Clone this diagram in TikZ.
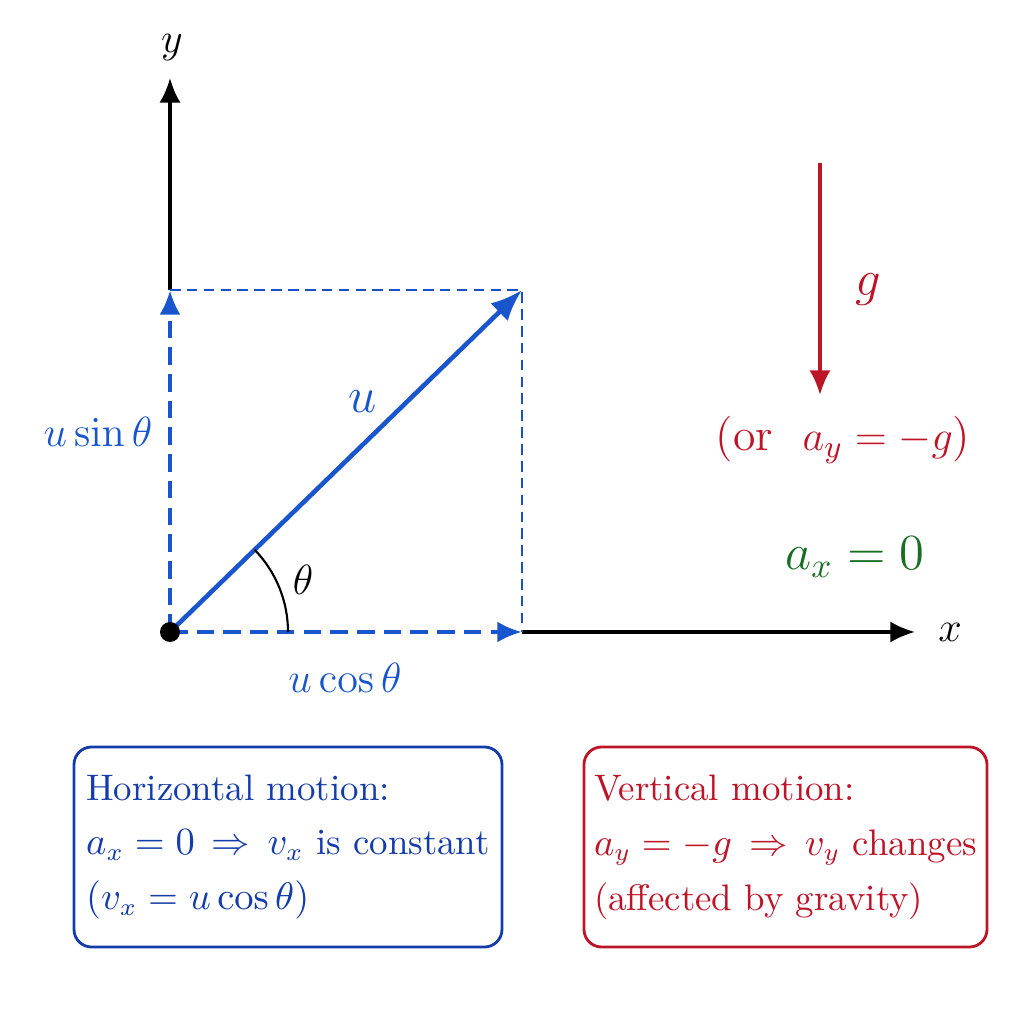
\documentclass[tikz,border=0pt]{standalone}
\usepackage{amsmath}
\usetikzlibrary{arrows.meta,positioning}
\tikzset{>={Latex[length=7pt,width=6pt]}}

\definecolor{vecblue}{RGB}{25,85,205}
\definecolor{boxblue}{RGB}{20,60,170}
\definecolor{gravred}{RGB}{190,20,40}
\definecolor{accgreen}{RGB}{25,110,35}

\tikzset{
	axis/.style={->, line width=0.9pt},
	component/.style={->, vecblue, line width=1.2pt, dash pattern=on 5pt off 2.6pt},
	guide/.style={vecblue!80!boxblue, line width=0.6pt, dash pattern=on 3pt off 1.8pt},
	biglabel/.style={font=\fontsize{13}{15}\selectfont},
	infobox/.style={draw, rounded corners=5pt, line width=0.8pt, minimum height=2cm,
		align=left, inner xsep=0.1cm, font=\fontsize{10.5}{15.6}\selectfont}
}

\begin{document}
\begin{tikzpicture}
	\useasboundingbox (0,0) rectangle (10.24,10.24);
%	\draw[help lines] (0,0) grid (10,10);
	\coordinate (O) at (1.70,3.92);
	\coordinate (P) at (5.22,7.34);
	\coordinate (Px) at (5.22,3.92);
	\coordinate (Py) at (1.70,7.34);
	\coordinate (xend) at (9.15,3.92);
	\coordinate (yend) at (1.70,9.46);
	\coordinate (gtop) at (8.20,8.61);
	\coordinate (gbot) at (8.20,6.29);

	\draw [axis] (Px) -- (xend);
	\draw [axis] (Py) -- (yend);
	\node [biglabel] (xlab) at (9.50,3.92) {$x$};
	\node [biglabel] (ylab) at (1.72,9.76) {$y$};

	\draw [guide] (Py) -- (P) -- (Px);
	\draw [component] (O) -- (Px);
	\draw [component] (O) -- (Py);
	\draw [-{Latex[length=9pt,width=7pt]}, vecblue, line width=1.3pt] (O) -- (P);
	\draw [line width=0.6pt] (O) ++(1.18,0) arc [start angle=0, end angle=44.2, radius=1.18];
	\fill (O) circle [radius=.1];

	\node [biglabel, vecblue, font=\fontsize{15}{17}\selectfont] (ulab) at (3.63,6.22) {$u$};
	\node [biglabel] (thlab) at (3.03,4.44) {$\theta$};
	\node [biglabel, vecblue] (uy) at (0.98,5.92) {$u\sin\theta$};
	\node [biglabel, vecblue] (ux) at (3.45,3.46) {$u\cos\theta$};

	\draw [->, gravred, line width=0.9pt] (gtop) -- (gbot);
	\node [biglabel, gravred, font=\fontsize{15}{17}\selectfont] (glab) at (8.68,7.34) {$g$};
	\node [biglabel, gravred] (ay) at (8.43,5.84) {(or\ \ $a_y = -g$)};
	\node [biglabel, accgreen, font=\fontsize{14}{16}\selectfont] (ax) at (8.55,4.67) {$a_x = 0$};

	\node [infobox, draw=boxblue, text=boxblue, minimum width=4.28cm] (hbox) at (2.88,1.77)
		{Horizontal motion:\\ $a_x = 0 \,\Rightarrow\, v_x$ is constant\\ $(v_x = u\cos\theta)$};
	\node [infobox, draw=gravred, text=gravred, minimum width=4.03cm] (vbox) at (7.855,1.77)
		{Vertical motion:\\ $a_y = -g \,\Rightarrow\, v_y$ changes\\ (affected by gravity)};
\end{tikzpicture}
\end{document}
